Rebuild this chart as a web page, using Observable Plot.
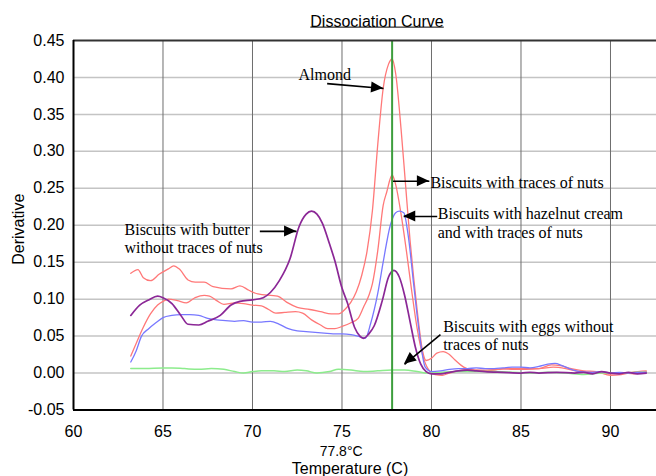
<!DOCTYPE html>
<html>
<head>
<meta charset="utf-8">
<script src="https://cdn.jsdelivr.net/npm/d3@7"></script>
<script src="https://cdn.jsdelivr.net/npm/@observablehq/plot@0.6"></script>
<style>
  html, body { margin: 0; padding: 0; background: #fff; }
</style>
</head>
<body>
<div id="chart"></div>
<script>
// ---- Data ----
const title = "Dissociation Curve";
const xLabel = "Temperature (C)";
const yLabel = "Derivative";
const xDomain = [60, 92.57];
const yDomain = [-0.05, 0.45];
const xTicks = [60, 65, 70, 75, 80, 85, 90];
const yTicks = [-0.05, 0, 0.05, 0.10, 0.15, 0.20, 0.25, 0.30, 0.35, 0.40, 0.45];
const markerTemp = 77.8;

// [temperature, derivative]
const almond = [
  [63.2,0.135],[63.6,0.140],[63.9,0.129],[64.3,0.125],[64.8,0.134],[65.3,0.141],[65.6,0.145],
  [65.9,0.141],[66.4,0.126],[66.8,0.123],[67.3,0.123],[67.8,0.117],[68.8,0.114],[69.3,0.118],
  [69.8,0.112],[70.3,0.107],[71.4,0.104],[71.9,0.096],[72.5,0.089],[73.2,0.086],[73.8,0.083],
  [74.4,0.080],[74.8,0.080],[75.2,0.087],[75.5,0.096],[75.8,0.110],[76.1,0.132],[76.4,0.165],
  [76.7,0.220],[77.0,0.310],[77.3,0.385],[77.6,0.418],[77.8,0.425],[78.0,0.405],[78.3,0.330],
  [78.55,0.255],[78.8,0.180],[79.0,0.130],[79.2,0.085],[79.5,0.030],[79.7,0.017],[80.0,0.020],
  [80.3,0.027],[80.65,0.029],[81.0,0.025],[81.3,0.018],[81.8,0.008],[82.3,0.004],[83.0,0.004],
  [83.7,0.005],[84.5,0.006],[85.2,0.006],[86.0,0.006],[86.8,0.008],[87.5,0.006],[88.2,0.002],
  [89.0,0.001],[90.0,-0.001],[90.7,0.000],[91.3,-0.001],[92.0,0.002]
];
const tracesOfNuts = [
  [63.2,0.023],[63.5,0.040],[63.9,0.062],[64.3,0.080],[64.7,0.092],[65.0,0.097],[65.3,0.100],
  [65.8,0.098],[66.3,0.095],[66.8,0.102],[67.3,0.105],[67.6,0.104],[68.0,0.098],[68.4,0.093],
  [69.0,0.095],[69.5,0.094],[70.0,0.092],[70.5,0.091],[70.9,0.086],[71.3,0.081],[71.8,0.082],
  [72.4,0.083],[72.8,0.081],[73.3,0.072],[73.8,0.065],[74.2,0.060],[74.6,0.060],[75.0,0.063],
  [75.5,0.068],[75.9,0.074],[76.2,0.089],[76.5,0.105],[76.7,0.121],[77.0,0.166],[77.3,0.227],
  [77.5,0.245],[77.8,0.268],[78.0,0.255],[78.3,0.215],[78.6,0.165],[78.9,0.110],[79.2,0.060],
  [79.5,0.025],[79.8,0.006],[80.2,-0.002],[80.6,-0.003],[81.0,0.000],[81.5,0.003],[82.0,0.005],
  [82.5,0.004],[83.0,0.003],[83.5,0.004],[84.0,0.006],[84.6,0.005],[85.3,0.005],[86.0,0.006],
  [86.7,0.011],[87.2,0.010],[87.8,0.006],[88.5,0.003],[89.2,0.002],[90.0,-0.003],[90.6,-0.002],
  [91.2,0.001],[92.0,0.003]
];
const hazelnut = [
  [63.2,0.015],[63.5,0.030],[63.8,0.050],[64.2,0.060],[64.6,0.068],[65.0,0.075],[65.5,0.078],
  [66.0,0.079],[66.5,0.079],[67.0,0.078],[67.5,0.074],[68.0,0.072],[68.5,0.071],[69.0,0.070],
  [69.5,0.071],[70.0,0.069],[70.5,0.069],[71.0,0.070],[71.5,0.066],[72.0,0.060],[72.5,0.057],
  [73.0,0.056],[74.0,0.054],[74.5,0.053],[75.0,0.053],[75.5,0.052],[76.0,0.049],[76.3,0.047],
  [76.6,0.067],[77.0,0.108],[77.3,0.150],[77.7,0.200],[78.0,0.217],[78.2,0.219],[78.45,0.217],
  [78.7,0.186],[79.0,0.121],[79.3,0.058],[79.65,0.008],[80.0,0.002],[80.5,0.003],[81.0,0.005],
  [81.5,0.006],[82.0,0.006],[82.5,0.007],[83.0,0.006],[83.5,0.006],[84.0,0.007],[84.5,0.008],
  [85.0,0.008],[85.5,0.007],[86.0,0.009],[86.5,0.012],[86.9,0.013],[87.3,0.010],[87.8,0.005],
  [88.3,0.002],[89.0,0.001],[89.5,0.002],[90.0,0.000],[90.5,0.001],[91.0,0.000],[91.5,0.001],
  [92.0,0.001]
];
const butter = [
  [63.2,0.078],[63.7,0.092],[64.2,0.099],[64.7,0.104],[65.0,0.102],[65.5,0.094],[66.0,0.078],
  [66.4,0.066],[67.0,0.065],[67.5,0.070],[68.2,0.078],[68.8,0.092],[69.3,0.097],[70.0,0.099],
  [70.6,0.102],[71.0,0.109],[71.5,0.125],[72.1,0.155],[72.6,0.198],[73.0,0.215],[73.3,0.219],
  [73.6,0.215],[73.9,0.203],[74.3,0.175],[74.6,0.152],[75.0,0.115],[75.3,0.095],[75.7,0.062],
  [76.0,0.050],[76.2,0.047],[76.5,0.053],[76.8,0.064],[77.25,0.098],[77.6,0.130],[77.9,0.139],
  [78.2,0.130],[78.5,0.105],[78.8,0.070],[79.1,0.035],[79.4,0.012],[79.7,0.002],[80.0,-0.001],
  [80.5,-0.001],[81.0,0.001],[81.5,0.003],[82.0,0.004],[82.5,0.003],[83.0,0.002],[84.0,0.001],
  [85.0,0.000],[85.5,0.001],[86.0,0.000],[87.0,0.001],[88.0,0.000],[88.5,0.001],[89.0,-0.001],
  [89.5,0.002],[90.0,0.000],[90.5,-0.001],[91.0,0.001],[91.5,-0.001],[92.0,0.000]
];
const eggs = [
  [63.2,0.006],[64.0,0.006],[65.0,0.007],[65.5,0.007],[66.2,0.006],[67.0,0.005],[67.7,0.006],
  [68.4,0.005],[69.0,0.002],[69.5,0.000],[70.0,0.002],[70.5,0.003],[71.2,0.003],[71.8,0.002],
  [72.5,0.004],[73.0,0.003],[73.6,0.000],[74.3,0.002],[74.8,0.005],[75.5,0.004],[76.2,0.002],
  [77.0,0.003],[77.8,0.004],[78.5,0.004],[79.2,0.002],[79.8,0.000],[80.5,0.001],[81.5,0.002],
  [82.5,0.002],[83.5,0.002],[84.5,0.001],[85.5,0.000],[86.5,0.001],[87.5,0.000],[88.5,-0.002],
  [89.5,0.000],[90.5,0.000],[91.5,0.001],[92.0,0.001]
];

// annotations (text anchor in data units)
const annotLabels = ["Almond", "Biscuits with traces of nuts",
  "Biscuits with hazelnut cream\nand with traces of nuts",
  "Biscuits with butter\nwithout traces of nuts",
  "Biscuits with eggs without\ntraces of nuts"];
const annotX = [72.57, 79.94, 80.35, 62.85, 80.65];
const annotY = [0.404, 0.258, 0.2034, 0.183, 0.0517];
// arrows: [x1, y1] -> [x2 (tip), y2 (tip)]
const arrowFrom = [[74.17, 0.3916], [77.85, 0.2595], [80.32, 0.2118], [70.41, 0.1917], [80.50, 0.0520]];
const arrowTo   = [[77.32, 0.3850], [79.88, 0.2595], [78.45, 0.2118], [72.46, 0.1917], [78.49, 0.0118]];

// ---- Build tables ----
const seriesDefs = [
  {name: "Almond", pts: almond, color: "#ff7878", w: 1.3},
  {name: "Traces", pts: tracesOfNuts, color: "#ff7878", w: 1.3},
  {name: "Eggs", pts: eggs, color: "#8cec8c", w: 1.5},
  {name: "Hazelnut", pts: hazelnut, color: "#7878ff", w: 1.3},
  {name: "Butter", pts: butter, color: "#8b2796", w: 1.7}
];
const lineMarks = seriesDefs.map(s =>
  Plot.line(s.pts.map(([t, v]) => ({t, v})), {x: "t", y: "v", stroke: s.color, strokeWidth: s.w, curve: "monotone-x"})
);
const annots = annotLabels.map((label, i) => ({label, x: annotX[i], y: annotY[i]}));
const arrows = arrowFrom.map((f, i) => ({x1: f[0], y1: f[1], x2: arrowTo[i][0], y2: arrowTo[i][1]}));
const gridX = xTicks.filter(d => d > xDomain[0]);
const gridY = yTicks.filter(d => d > yDomain[0] && d < yDomain[1]);

const plot = Plot.plot({
  width: 656,
  height: 476,
  marginLeft: 73,
  marginRight: 0,
  marginTop: 40,
  marginBottom: 66.5,
  style: {fontFamily: "'Liberation Sans', Arial, sans-serif", fontSize: "16px", background: "#fff", color: "#000"},
  x: {domain: xDomain, ticks: xTicks, tickSize: 0, tickPadding: 16, label: null, tickFormat: d => String(d)},
  y: {domain: yDomain, ticks: yTicks, tickSize: 0, tickPadding: 9, label: null, tickFormat: d => d.toFixed(2)},
  marks: [
    Plot.ruleY(gridY, {stroke: "#c4c4c4", strokeWidth: 1.5}),
    Plot.ruleX(gridX, {stroke: "#6e6e6e", strokeWidth: 1}),
    ...lineMarks,
    Plot.ruleX([markerTemp], {stroke: "#3d9e3d", strokeWidth: 2}),
    Plot.ruleY([yDomain[1]], {stroke: "#333", strokeWidth: 2}),
    Plot.ruleY([yDomain[0]], {stroke: "#000", strokeWidth: 2}),
    Plot.ruleX([xDomain[0]], {stroke: "#000", strokeWidth: 2}),
    Plot.link(arrows, {x1: "x1", y1: "y1", x2: "x2", y2: "y2", stroke: "#000", strokeWidth: 1.6}),
    Plot.text(annots, {x: "x", y: "y", text: "label", textAnchor: "start", lineAnchor: "middle",
      lineHeight: 1.15, fontFamily: "'Liberation Serif', 'Times New Roman', serif", fontSize: 16, fill: "#000"}),
    Plot.text([title], {frameAnchor: "top", dx: 12, dy: -19, lineAnchor: "middle", fontSize: 16, fill: "#000"}),
    Plot.text([`${markerTemp}°C`], {x: () => markerTemp, frameAnchor: "bottom", dx: -51, dy: 41.5, lineAnchor: "middle", fontSize: 14, fill: "#000"}),
    Plot.text([xLabel], {frameAnchor: "bottom", dx: -15, dy: 58.5, lineAnchor: "middle", fontSize: 16, fill: "#000"}),
    Plot.text([yLabel], {frameAnchor: "left", textAnchor: "middle", dx: -55, dy: 4, rotate: -90, lineAnchor: "middle", fontSize: 16, fill: "#000"})
  ]
});

document.getElementById("chart").appendChild(plot);

// filled triangular arrow heads and the underline of the title, positioned through Plot's scales
const sx = plot.scale("x"), sy = plot.scale("y");
const fx = d3.scaleLinear(sx.domain, sx.range), fy = d3.scaleLinear(sy.domain, sy.range);
const svg = d3.select(plot);
const heads = svg.append("g");
arrows.forEach(a => {
  const px1 = fx(a.x1), py1 = fy(a.y1), px2 = fx(a.x2), py2 = fy(a.y2);
  const dx = px2 - px1, dy = py2 - py1, len = Math.hypot(dx, dy);
  const ux = dx / len, uy = dy / len;
  const L = 12, W = 5.5;
  const bx = px2 - ux * L, by = py2 - uy * L;
  heads.append("path")
    .attr("d", `M${px2},${py2}L${bx - uy * W},${by + ux * W}L${bx + uy * W},${by - ux * W}Z`)
    .attr("fill", "#000");
});
svg.selectAll("text").each(function() {
  if (this.textContent === title) {
    const b = this.getBBox();
    const line = document.createElementNS("http://www.w3.org/2000/svg", "line");
    const tr = this.getAttribute("transform");
    if (tr) line.setAttribute("transform", tr);
    line.setAttribute("x1", b.x); line.setAttribute("x2", b.x + b.width);
    line.setAttribute("y1", b.y + b.height - 2.5); line.setAttribute("y2", b.y + b.height - 2.5);
    line.setAttribute("stroke", "#000"); line.setAttribute("stroke-width", 1);
    this.parentNode.appendChild(line);
  }
});
</script>
</body>
</html>
